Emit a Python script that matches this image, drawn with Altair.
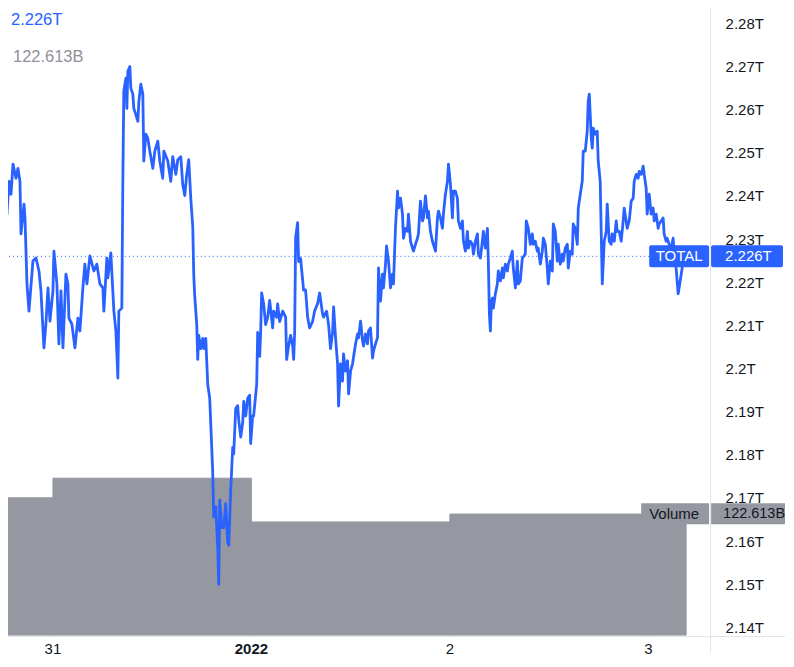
import altair as alt
import pandas as pd

# ---- TOTAL crypto market cap (trillions USD); hours since 2021-12-31 00:00 ----
hours = [
    -6.28, -6.04, -5.80, -5.56, -5.31, -5.07, -4.83, -4.47, -4.23, -3.99, -3.86, -3.50, -3.38, -3.14, -2.90,
    -2.42, -2.05, -1.69, -1.45, -1.09, -0.85, -0.60, -0.36, 0.00, 0.12, 0.48, 0.72, 0.97, 1.21, 1.57, 1.81,
    1.93, 2.29, 2.66, 3.02, 3.26, 3.62, 3.86, 4.11, 4.47, 4.95, 5.31, 5.68, 6.04, 6.16, 6.52, 6.64, 7.00,
    7.37, 7.61, 7.85, 7.97, 8.33, 8.45, 8.57, 8.82, 8.94, 9.06, 9.30, 9.42, 9.66, 9.78, 10.02, 10.27, 10.39,
    10.63, 10.87, 10.99, 11.23, 11.47, 11.71, 12.08, 12.32, 12.68, 12.92, 13.28, 13.41, 13.89, 14.25,
    14.49, 14.86, 15.10, 15.46, 15.70, 15.94, 16.18, 16.42, 16.67, 16.91, 17.03, 17.15, 17.39, 17.51, 17.63,
    17.87, 18.12, 18.24, 18.48, 18.72, 18.96, 19.32, 19.44, 19.69, 19.93, 20.05, 20.17, 20.41, 20.65, 20.89,
    21.13, 21.26, 21.50, 21.74, 21.86, 22.10, 22.34, 22.46, 22.71, 22.95, 23.07, 23.31, 23.55, 23.79, 23.91,
    24.15, 24.27, 24.64, 24.76, 25.00, 25.12, 25.24, 25.48, 25.72, 25.97, 26.21, 26.57, 26.69, 27.05, 27.17,
    27.42, 27.78, 28.14, 28.26, 28.50, 28.74, 28.99, 29.11, 29.23, 29.35, 29.59, 29.71, 29.95, 30.31, 30.55,
    30.80, 31.04, 31.40, 31.64, 32.00, 32.25, 32.61, 32.73, 33.09, 33.33, 33.57, 33.82, 33.94, 34.18, 34.42,
    34.54, 34.78, 35.02, 35.14, 35.39, 35.63, 35.75, 35.99, 36.23, 36.59, 36.84, 36.96, 37.20, 37.44, 37.56,
    37.80, 38.04, 38.16, 38.40, 38.65, 38.77, 39.01, 39.25, 39.37, 39.61, 39.85, 39.97, 40.22, 40.34, 40.58,
    40.82, 41.06, 41.18, 41.42, 41.67, 41.79, 42.03, 42.27, 42.39, 42.63, 42.87, 42.99, 43.24, 43.48, 43.60,
    43.84, 44.08, 44.20, 44.44, 44.69, 44.81, 45.05, 45.29, 45.41, 45.65, 45.89, 46.01, 46.26, 46.50, 46.62,
    46.86, 47.10, 47.22, 47.46, 47.71, 47.83, 48.07, 48.31, 48.43, 48.67, 48.91, 49.03, 49.28, 49.52, 49.64,
    49.88, 50.12, 50.24, 50.48, 50.72, 50.85, 51.09, 51.33, 51.45, 51.69, 51.93, 52.05, 52.29, 52.54, 52.66,
    52.78, 52.90, 53.02, 53.14, 53.26, 53.50, 53.74, 53.86, 54.11, 54.35, 54.47, 54.71, 54.95, 55.07, 55.31,
    55.55, 55.67, 55.92, 56.16, 56.28, 56.52, 56.76, 57.12, 57.24, 57.49, 57.73, 57.97, 58.09, 58.33, 58.57,
    58.69, 58.94, 59.18, 59.30, 59.54, 59.78, 59.90, 60.14, 60.39, 60.51, 60.75, 60.99, 61.11, 61.35, 61.59,
    61.71, 61.96, 62.20, 62.32, 62.56, 62.80, 62.92, 63.16, 63.41, 63.53, 63.77, 64.01, 64.13, 64.37, 64.61,
    64.73, 64.86, 65.10, 65.22, 65.34, 65.58, 65.82, 65.94, 66.18, 66.30, 66.43, 66.67, 66.91, 67.03, 67.27,
    67.51, 67.63, 67.88, 68.12, 68.24, 68.48, 68.72, 68.96, 69.08, 69.32, 69.44, 69.69, 69.93, 70.17, 70.29,
    70.53, 70.77, 70.89, 71.14, 71.38, 71.50, 71.74, 71.86, 72.10, 72.34, 72.58, 72.71, 72.95, 73.19, 73.31,
    73.55, 73.79, 73.91, 74.15, 74.27, 74.52, 74.76, 75.00, 75.12, 75.36, 75.48, 75.61, 75.85, 76.09, 76.21,
    76.45, 76.57,
]
values = [
    2.2411, 2.2381, 2.2418, 2.2358, 2.2434, 2.2404, 2.2474, 2.2441, 2.2464, 2.2434, 2.2312, 2.2381, 2.2349, 2.2196, 2.2133,
    2.2249, 2.2256, 2.2226, 2.2180, 2.2048, 2.2103, 2.2187, 2.2110, 2.2180, 2.2272, 2.2196, 2.2057, 2.2180, 2.2048, 2.2219, 2.2196,
    2.2117, 2.2103, 2.2048, 2.2117, 2.2087, 2.2187, 2.2242, 2.2196, 2.2261, 2.2226, 2.2242, 2.2196, 2.2187, 2.2133, 2.2256, 2.2210, 2.2268,
    2.2133, 2.2087, 2.1978, 2.2133, 2.2140, 2.2427, 2.2643, 2.2673, 2.2603, 2.2689, 2.2700, 2.2650, 2.2636, 2.2603, 2.2589, 2.2573, 2.2619,
    2.2659, 2.2636, 2.2481, 2.2543, 2.2534, 2.2504, 2.2464, 2.2504, 2.2527, 2.2481, 2.2441, 2.2504, 2.2481, 2.2434,
    2.2491, 2.2450, 2.2484, 2.2491, 2.2426, 2.2401, 2.2450, 2.2484, 2.2394, 2.2328, 2.2216, 2.2167, 2.2102, 2.2021, 2.2077,
    2.2046, 2.2070, 2.2046, 2.2070, 2.1963, 2.1931, 2.1761, 2.1656, 2.1680, 2.1583, 2.1500, 2.1695, 2.1631, 2.1631, 2.1687,
    2.1597, 2.1590, 2.1719, 2.1817, 2.1802, 2.1907, 2.1914, 2.1882, 2.1841, 2.1875, 2.1924, 2.1890, 2.1931, 2.1938, 2.1826,
    2.1890, 2.1890, 2.1963, 2.2084, 2.2028, 2.2084, 2.2175, 2.2150, 2.2102, 2.2119, 2.2158, 2.2094, 2.2133, 2.2119, 2.2150,
    2.2109, 2.2133, 2.2119, 2.2021, 2.2053, 2.2077, 2.2053, 2.2021, 2.2084, 2.2304, 2.2338, 2.2248, 2.2255, 2.2182, 2.2182,
    2.2119, 2.2094, 2.2109, 2.2133, 2.2150, 2.2175, 2.2126, 2.2119, 2.2133, 2.2102, 2.2046, 2.2084, 2.2143, 2.2070, 2.2011,
    2.1913, 2.2011, 2.1971, 2.2034, 2.1994, 2.2018, 2.1941, 2.1994, 2.2011, 2.2057, 2.2080, 2.2071, 2.2110, 2.2064, 2.2052,
    2.2080, 2.2057, 2.2087, 2.2094, 2.2024, 2.2041, 2.2057, 2.2071, 2.2233, 2.2156, 2.2219, 2.2187, 2.2242, 2.2284, 2.2249,
    2.2187, 2.2219, 2.2196, 2.2325, 2.2411, 2.2372, 2.2395, 2.2358, 2.2302, 2.2325, 2.2318, 2.2358, 2.2295, 2.2279, 2.2272,
    2.2288, 2.2302, 2.2312, 2.2388, 2.2342, 2.2349, 2.2400, 2.2349, 2.2365, 2.2318, 2.2295, 2.2288, 2.2272, 2.2349, 2.2365,
    2.2349, 2.2325, 2.2358, 2.2404, 2.2434, 2.2474, 2.2427, 2.2349, 2.2411, 2.2411, 2.2395, 2.2342, 2.2325, 2.2342, 2.2295,
    2.2272, 2.2318, 2.2279, 2.2295, 2.2288, 2.2265, 2.2295, 2.2312, 2.2265, 2.2256, 2.2295, 2.2318, 2.2279, 2.2325, 2.2242,
    2.2126, 2.2087, 2.2156, 2.2163, 2.2140, 2.2173, 2.2196, 2.2226, 2.2203, 2.2233, 2.2210, 2.2242, 2.2226, 2.2242, 2.2256,
    2.2272, 2.2233, 2.2187, 2.2249, 2.2196, 2.2203, 2.2256, 2.2265, 2.2342, 2.2325, 2.2288, 2.2312, 2.2288, 2.2295, 2.2272,
    2.2279, 2.2242, 2.2272, 2.2302, 2.2288, 2.2233, 2.2196, 2.2249, 2.2226, 2.2335, 2.2318, 2.2249, 2.2288, 2.2242, 2.2265,
    2.2249, 2.2279, 2.2288, 2.2233, 2.2272, 2.2265, 2.2335, 2.2325, 2.2288, 2.2372, 2.2404, 2.2434, 2.2504, 2.2504, 2.2550,
    2.2619, 2.2636, 2.2534, 2.2511, 2.2557, 2.2543, 2.2550, 2.2481, 2.2434, 2.2318, 2.2196, 2.2295, 2.2318, 2.2381, 2.2295,
    2.2288, 2.2312, 2.2295, 2.2342, 2.2318, 2.2318, 2.2295, 2.2342, 2.2372, 2.2342, 2.2325, 2.2342, 2.2388, 2.2395, 2.2434,
    2.2450, 2.2441, 2.2457, 2.2450, 2.2469, 2.2450, 2.2418, 2.2358, 2.2404, 2.2358, 2.2372, 2.2342, 2.2358, 2.2325, 2.2335,
    2.2342, 2.2349, 2.2312, 2.2295, 2.2302, 2.2288, 2.2279, 2.2302, 2.2265, 2.2233, 2.2203, 2.2173, 2.2203, 2.2233, 2.2265,
    2.2272, 2.2260,
]

# ---- daily volume (billions USD) ----
vol_day_start = [-24, 0, 24, 48, 72]
vol_day_end = [0, 24, 48, 72, 76.57]
vol_values = [138.7, 158.4, 114.4, 122.3, 122.613]

# ---- axes ----
y_ticks = [2.14, 2.15, 2.16, 2.17, 2.18, 2.19, 2.20, 2.21, 2.22, 2.23, 2.24, 2.25, 2.26, 2.27, 2.28]
x_tick_hours = [0, 24, 48, 72]
x_tick_labels = ["31", "2022", "2", "3"]
x_tick_bold = [False, True, False, False]
series_name = "TOTAL"
volume_name = "Volume"

BLUE = "#2962FF"
VOLC = "#9598A1"
TXT = "#131722"
SEP = "#E0E3EB"
FONT = "Liberation Sans"

W, H = 710, 635
X_DOMAIN = [-6.28, 79.469]
Y_DOMAIN = [2.13809, 2.28509]
VOL_DOMAIN = [0, 638.2]

last_val = values[-1]
last_vol = vol_values[-1]
price_txt = f"{last_val:.3f}T"
vol_txt = f"{last_vol:.3f}B"

price = pd.DataFrame({"h": hours, "v": values})
vol = pd.DataFrame({"start": vol_day_start, "end": vol_day_end, "vol": vol_values})
xticks_df = pd.DataFrame({"h": x_tick_hours, "label": x_tick_labels, "bold": x_tick_bold})
last_price_df = pd.DataFrame({"v": [last_val]})
last_vol_df = pd.DataFrame({"vol": [last_vol]})
one = pd.DataFrame({"a": [0]})

xscale = alt.Scale(domain=X_DOMAIN, nice=False, zero=False)
yscale = alt.Scale(domain=Y_DOMAIN, nice=False, zero=False)
vscale = alt.Scale(domain=VOL_DOMAIN, nice=False, zero=True)

y_axis = alt.Axis(
    orient="right", values=y_ticks, labelExpr="format(datum.value, '.2~f') + 'T'",
    ticks=False, domain=False, grid=False, labelPadding=15, labelAlign="left",
    labelFontSize=15, labelColor=TXT, labelFont=FONT, title=None,
    labelOverlap=False, labelFlush=False,
)

# ---- volume marks (own y scale) ----
bars = alt.Chart(vol).mark_rect(color=VOLC, stroke=VOLC, strokeWidth=1, clip=True).encode(
    x=alt.X("start:Q", scale=xscale, axis=None),
    x2="end:Q",
    y=alt.Y("vol:Q", scale=vscale, axis=None),
    y2=alt.datum(0),
)
vol_box = alt.Chart(last_vol_df).mark_rect(color=VOLC, yOffset=-10.5, y2Offset=10.5).encode(
    x=alt.value(641), x2=alt.value(709),
    y=alt.Y("vol:Q", scale=vscale, axis=None), y2="vol:Q",
)
vol_pbox = alt.Chart(last_vol_df).mark_rect(color=VOLC, yOffset=-10.5, y2Offset=10.5).encode(
    x=alt.value(711), x2=alt.value(785),
    y=alt.Y("vol:Q", scale=vscale, axis=None), y2="vol:Q",
)
vol_name_txt = alt.Chart(last_vol_df).mark_text(
    font=FONT, fontSize=15, color=TXT, align="center", baseline="middle"
).encode(x=alt.value(674), y=alt.Y("vol:Q", scale=vscale, axis=None), text=alt.value(volume_name))
vol_val_txt = alt.Chart(last_vol_df).mark_text(
    font=FONT, fontSize=14.5, color=TXT, align="left", baseline="middle"
).encode(x=alt.value(723), y=alt.Y("vol:Q", scale=vscale, axis=None), text=alt.value(vol_txt))

# ---- price marks ----
line = alt.Chart(price).mark_line(color=BLUE, strokeWidth=2.8, clip=True, strokeJoin="round").encode(
    x=alt.X("h:Q", scale=xscale, axis=None),
    y=alt.Y("v:Q", scale=yscale, axis=y_axis),
)
dotted = alt.Chart(last_price_df).mark_rule(color=BLUE, strokeDash=[1, 3], strokeWidth=1).encode(
    y=alt.Y("v:Q", scale=yscale, axis=None), x=alt.value(0), x2=alt.value(649),
)
total_box = alt.Chart(last_price_df).mark_rect(color=BLUE, cornerRadius=2, yOffset=-11, y2Offset=11).encode(
    x=alt.value(649), x2=alt.value(709),
    y=alt.Y("v:Q", scale=yscale, axis=None), y2="v:Q",
)
price_box = alt.Chart(last_price_df).mark_rect(color=BLUE, cornerRadius=2, yOffset=-11, y2Offset=11).encode(
    x=alt.value(711), x2=alt.value(783),
    y=alt.Y("v:Q", scale=yscale, axis=None), y2="v:Q",
)
total_txt = alt.Chart(last_price_df).mark_text(
    font=FONT, fontSize=15, color="white", align="center", baseline="middle"
).encode(x=alt.value(679), y=alt.Y("v:Q", scale=yscale, axis=None), text=alt.value(series_name))
price_val_txt = alt.Chart(last_price_df).mark_text(
    font=FONT, fontSize=15, color="white", align="left", baseline="middle"
).encode(x=alt.value(725), y=alt.Y("v:Q", scale=yscale, axis=None), text=alt.value(price_txt))

# ---- time-axis labels (drawn through the x scale) ----
xlab_normal = alt.Chart(xticks_df).transform_filter("!datum.bold").mark_text(
    font=FONT, fontSize=15, color=TXT, align="center", baseline="middle"
).encode(x=alt.X("h:Q", scale=xscale, axis=None), y=alt.value(648), text="label:N")
xlab_bold = alt.Chart(xticks_df).transform_filter("datum.bold").mark_text(
    font=FONT, fontSize=15, fontWeight="bold", color=TXT, align="center", baseline="middle"
).encode(x=alt.X("h:Q", scale=xscale, axis=None), y=alt.value(648), text="label:N")

legend_price = alt.Chart(one).mark_text(
    font=FONT, fontSize=16.5, color=BLUE, align="left", baseline="middle"
).encode(x=alt.value(10), y=alt.value(19), text=alt.value(price_txt))
legend_vol = alt.Chart(one).mark_text(
    font=FONT, fontSize=16.5, color="#8E9199", align="left", baseline="middle"
).encode(x=alt.value(12), y=alt.value(56), text=alt.value(vol_txt))

vsep = alt.Chart(one).mark_rule(color=SEP, strokeWidth=1).encode(
    x=alt.value(710.5), y=alt.value(0), y2=alt.value(652))
hsep = alt.Chart(one).mark_rule(color=SEP, strokeWidth=1).encode(
    y=alt.value(636), x=alt.value(0), x2=alt.value(785))

chart = (
    alt.layer(
        bars, vol_box, vol_pbox, vol_name_txt, vol_val_txt,
        hsep, vsep, dotted, line, total_box, price_box, total_txt, price_val_txt,
        xlab_normal, xlab_bold, legend_price, legend_vol,
    )
    .resolve_scale(y="independent")
    .properties(width=W, height=H, padding={"left": -8, "top": -8, "right": 0, "bottom": 0},
                background="white")
    .configure_view(stroke=None)
)

chart.save("out.html", embed_options={"renderer": "svg", "actions": False})
